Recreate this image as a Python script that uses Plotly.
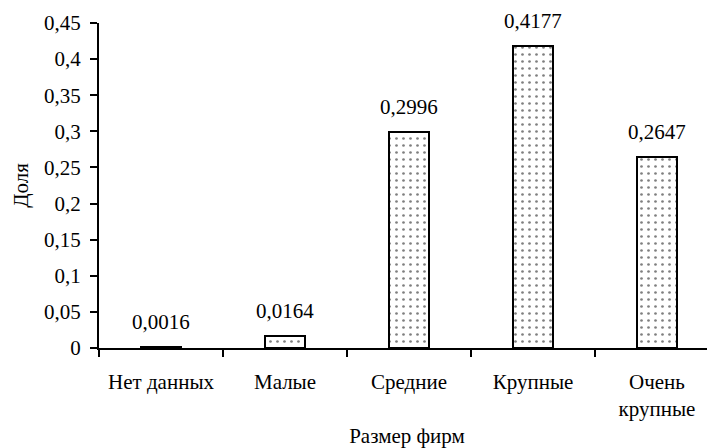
import plotly.graph_objects as go

categories = ["Нет данных", "Малые", "Средние", "Крупные", "Очень<br>крупные"]
values = [0.0016, 0.0164, 0.2996, 0.4177, 0.2647]
value_labels = ["0,0016", "0,0164", "0,2996", "0,4177", "0,2647"]
y_tickvals = [0, 0.05, 0.1, 0.15, 0.2, 0.25, 0.3, 0.35, 0.4, 0.45]
y_ticktext = ["0", "0,05", "0,1", "0,15", "0,2", "0,25", "0,3", "0,35", "0,4", "0,45"]

FONT = "Liberation Serif"
FS = 21
x_idx = list(range(len(categories)))

fig = go.Figure()
fig.add_trace(go.Bar(
    x=x_idx, y=values, width=0.315,
    marker=dict(color="white", line=dict(color="black", width=2),
                pattern=dict(shape=".", fgcolor="black", bgcolor="white", size=7, solidity=0.12)),
    hoverinfo="skip", showlegend=False,
))
# invisible trace on second x-axis to carry category labels
fig.add_trace(go.Scatter(x=x_idx, y=values, xaxis="x2", mode="markers",
                         marker=dict(opacity=0), hoverinfo="skip", showlegend=False))

for xi, v, t in zip(x_idx, values, value_labels):
    fig.add_annotation(x=xi, y=v, text=t, showarrow=False, yanchor="bottom",
                       yshift=11, font=dict(family=FONT, size=FS, color="black"))

xr = [-0.5, len(categories) - 0.5 - 4 / 124]
fig.update_layout(
    width=707, height=440,
    margin=dict(l=91, r=0, t=15, b=100, autoexpand=False),
    paper_bgcolor="white", plot_bgcolor="white",
    font=dict(family=FONT, size=FS, color="black"),
    bargap=0,
    xaxis=dict(range=xr, tickvals=[i - 0.5 for i in range(len(categories) + 1)],
               showticklabels=False, ticks="outside", ticklen=7, tickwidth=2,
               tickcolor="black", showline=True, linecolor="black", linewidth=2,
               showgrid=False, zeroline=False, automargin=False,
               title=dict(text="Размер фирм", standoff=73, font=dict(family=FONT, size=FS))),
    xaxis2=dict(range=xr, overlaying="x", side="bottom", anchor="y",
                tickvals=x_idx, ticktext=categories, ticks="", ticklabelstandoff=19,
                showline=False, showgrid=False, zeroline=False, automargin=False,
                tickfont=dict(family=FONT, size=FS)),
    yaxis=dict(range=[0, 0.45], tickvals=y_tickvals, ticktext=y_ticktext,
               ticks="outside", ticklen=7, tickwidth=2, tickcolor="black",
               showline=True, linecolor="black", linewidth=2,
               showgrid=False, zeroline=False, automargin=False, ticklabelstandoff=5,
               tickfont=dict(family=FONT, size=FS),
               title=dict(text="Доля", standoff=10, font=dict(family=FONT, size=FS))),
)

fig.write_html("out.html")
